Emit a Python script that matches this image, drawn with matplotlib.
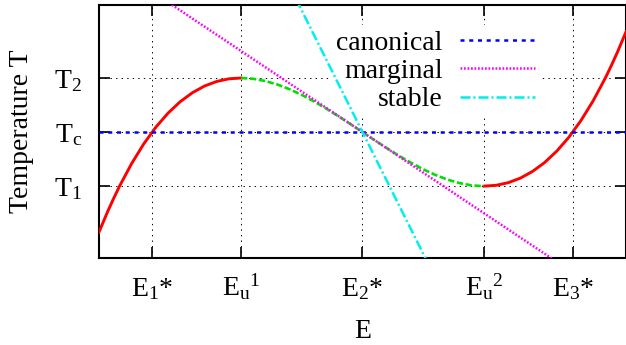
import matplotlib
matplotlib.use("Agg")
import matplotlib.pyplot as plt

plt.rcParams['font.family'] = 'Liberation Serif'
plt.rcParams['mathtext.fontset'] = 'custom'
plt.rcParams['mathtext.rm'] = 'Liberation Serif'
plt.rcParams['mathtext.it'] = 'Liberation Serif:italic'

# marked energies (E2* at the origin) and temperatures (Tc at the origin)
e_ticks = [-1.73, -1.0, 0.0, 1.0, 1.73]
e_tick_labels = ['E$_1$*', r'E$_\mathrm{u}{}^1$', 'E$_2$*', r'E$_\mathrm{u}{}^2$', 'E$_3$*']
t_ticks = [-1.0, 0.0, 1.0]
t_tick_labels = ['T$_1$', r'T$_\mathrm{c}$', 'T$_2$']

# caloric curve T(E): stable branches
e_left = [-2.17, -2.1, -2.05, -2.0, -1.9, -1.8, -1.7, -1.6, -1.5, -1.4, -1.3, -1.2, -1.1, -1.0]
t_left = [-1.854, -1.481, -1.233, -1.0, -0.580, -0.216, 0.094, 0.352, 0.563, 0.728, 0.852, 0.936, 0.985, 1.0]
e_right = [1.0, 1.1, 1.2, 1.3, 1.4, 1.5, 1.6, 1.7, 1.8, 1.9, 2.0, 2.05, 2.1, 2.17]
t_right = [-1.0, -0.985, -0.936, -0.852, -0.728, -0.563, -0.352, -0.094, 0.216, 0.580, 1.0, 1.233, 1.481, 1.854]

# back-bending (unstable) branch between Eu1 and Eu2
e_mid = [-1.0, -0.9, -0.8, -0.7, -0.6, -0.5, -0.4, -0.3, -0.2, -0.1, 0.0,
         0.1, 0.2, 0.3, 0.4, 0.5, 0.6, 0.7, 0.8, 0.9, 1.0]
t_mid = [1.0, 0.986, 0.944, 0.879, 0.792, 0.688, 0.568, 0.437, 0.296, 0.150, 0.0,
         -0.150, -0.296, -0.437, -0.568, -0.688, -0.792, -0.879, -0.944, -0.986, -1.0]

# straight lines through (E2*, Tc)
e_canonical = [-2.17, 2.17]
t_canonical = [0.0, 0.0]
e_marginal = [-2.17, 2.17]
t_marginal = [3.255, -3.255]
e_stable = [-0.6, 0.6]
t_stable = [2.7, -2.7]

fig = plt.figure(figsize=(6.26, 3.45), dpi=100)
ax = fig.add_axes([0.158, 0.252, 0.842, 0.7335])

ax.plot(e_left, t_left, color='#ff0000', lw=2.1, zorder=3)
ax.plot(e_right, t_right, color='#ff0000', lw=2.1, zorder=3)
ax.plot(e_mid, t_mid, color='#00e000', lw=1.9, ls=(0, (2.4, 1.0)), zorder=3)

ax.plot(e_canonical, t_canonical, color='#0000ff', lw=1.8, ls=(0, (1.6, 1.9)),
        label='canonical', zorder=3)
ax.plot(e_marginal, t_marginal, color='#ff00ff', lw=1.8, ls=(0, (0.7, 0.7)),
        label='marginal', zorder=3)
ax.plot(e_stable, t_stable, color='#00eeee', lw=1.8, ls=(0, (4.0, 1.2, 0.8, 1.2)),
        label='stable', zorder=3)

ax.set_xlim(-2.17, 2.17)
ax.set_ylim(-2.33, 2.35)

ax.set_xticks(e_ticks)
ax.set_xticklabels(e_tick_labels)
ax.set_yticks(t_ticks)
ax.set_yticklabels(t_tick_labels)
ax.tick_params(direction='in', length=8, width=1.2, top=True, right=True, labelsize=20)
ax.tick_params(axis='x', pad=27.4)
ax.tick_params(axis='y', pad=12)
for lbl in ax.get_xticklabels():
    lbl.set_va('baseline')

ax.grid(True, color='black', lw=0.7, ls=(0, (1.4, 4.3)))
for s in ax.spines.values():
    s.set_linewidth(1.5)

ax.set_xlabel('E', fontsize=20)
ax.xaxis.set_label_coords(0.5, -0.241)
ax.set_ylabel('Temperature T', fontsize=20)
ax.yaxis.set_label_coords(-0.123, 0.5)

leg = ax.legend(loc='upper right', bbox_to_anchor=(0.837, 0.921), borderaxespad=0,
                markerfirst=False, fontsize=20, handlelength=2.7, handletextpad=0.6,
                labelspacing=0.1, borderpad=0.2, fancybox=False,
                framealpha=1, edgecolor='none', facecolor='white')
leg.set_zorder(2.5)

fig.savefig('out.png', dpi=100)
